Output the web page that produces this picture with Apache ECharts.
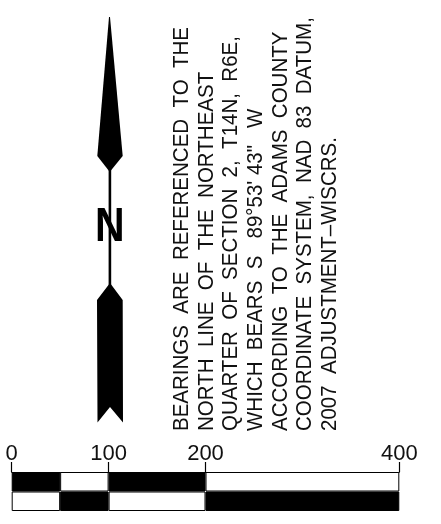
<!DOCTYPE html>
<html><head><meta charset="utf-8">
<style>html,body{margin:0;padding:0;background:#fff}#c{width:441px;height:524px}</style>
<script src="https://cdn.jsdelivr.net/npm/echarts@6/dist/echarts.min.js"></script>
</head><body><div id="c"></div>
<script>
const rows = ['upper', 'lower'];
const segments = [50, 50, 100, 200];
const tickValues = [0, 100, 200, 400];
const upperFill = ['#000', '#fff', '#000', '#fff'];
const lowerFill = ['#fff', '#000', '#fff', '#000'];
const noteLines = [
  'BEARINGS  ARE  REFERENCED  TO  THE',
  'NORTH  LINE  OF  THE  NORTHEAST',
  'QUARTER  OF  SECTION  2,  T14N,  R6E,',
  'WHICH  BEARS  S   89°53\' 43"   W',
  'ACCORDING  TO  THE  ADAMS  COUNTY',
  'COORDINATE  SYSTEM,  NAD  83  DATUM,',
  '2007  ADJUSTMENT–WISCRS.'
];
const chart = echarts.init(document.getElementById('c'), null, {renderer: 'canvas'});
const poly = pts => ({type: 'polygon', shape: {points: pts}, style: {fill: '#000'}});
chart.setOption({
  animation: false,
  backgroundColor: '#fff',
  grid: {left: 11.7, top: 472, width: 387.6, height: 39},
  xAxis: {
    type: 'value', position: 'top', min: 0, max: 400, splitLine: {show: false},
    axisLine: {show: true, onZero: false, lineStyle: {color: '#000', width: 1}},
    axisTick: {show: true, length: 10, customValues: tickValues, lineStyle: {color: '#000', width: 1.2}},
    axisLabel: {customValues: tickValues, margin: 7, color: '#111', fontFamily: 'Liberation Sans', fontSize: 22, showMinLabel: true, showMaxLabel: true}
  },
  yAxis: {type: 'category', inverse: true, data: rows, show: false},
  series: segments.map((s, i) => ({
    type: 'bar', stack: 'scale', barWidth: '100%', silent: true,
    data: [
      {value: s, itemStyle: {color: upperFill[i], borderColor: '#000', borderWidth: 1}},
      {value: s, itemStyle: {color: lowerFill[i], borderColor: '#000', borderWidth: 1}}
    ]
  })),
  graphic: [
    poly([[109, 17], [110, 17], [122.7, 156], [110.5, 171], [109, 171], [97.3, 156]]),
    {type: 'rect', shape: {x: 108.6, y: 168, width: 2.6, height: 118}, style: {fill: '#000'}},
    poly([[110, 283], [122.7, 300], [123, 422.5], [110, 407], [97.5, 422.5], [97, 300]]),
    {type: 'text', x: 95, y: 252, scaleX: 0.82, scaleY: 0.96,
      style: {text: 'N', fill: '#000', font: 'bold 50px "Liberation Sans"', textAlign: 'left', textVerticalAlign: 'bottom'}},
    ...noteLines.map((t, i) => ({
      type: 'text', x: 193.5 + i * 24.6, y: 431, rotation: Math.PI / 2, scaleY: 1.08,
      style: {text: t, fill: '#111', font: '20.5px "Liberation Sans"', textAlign: 'left', textVerticalAlign: 'bottom'}
    }))
  ]
});
</script></body></html>
